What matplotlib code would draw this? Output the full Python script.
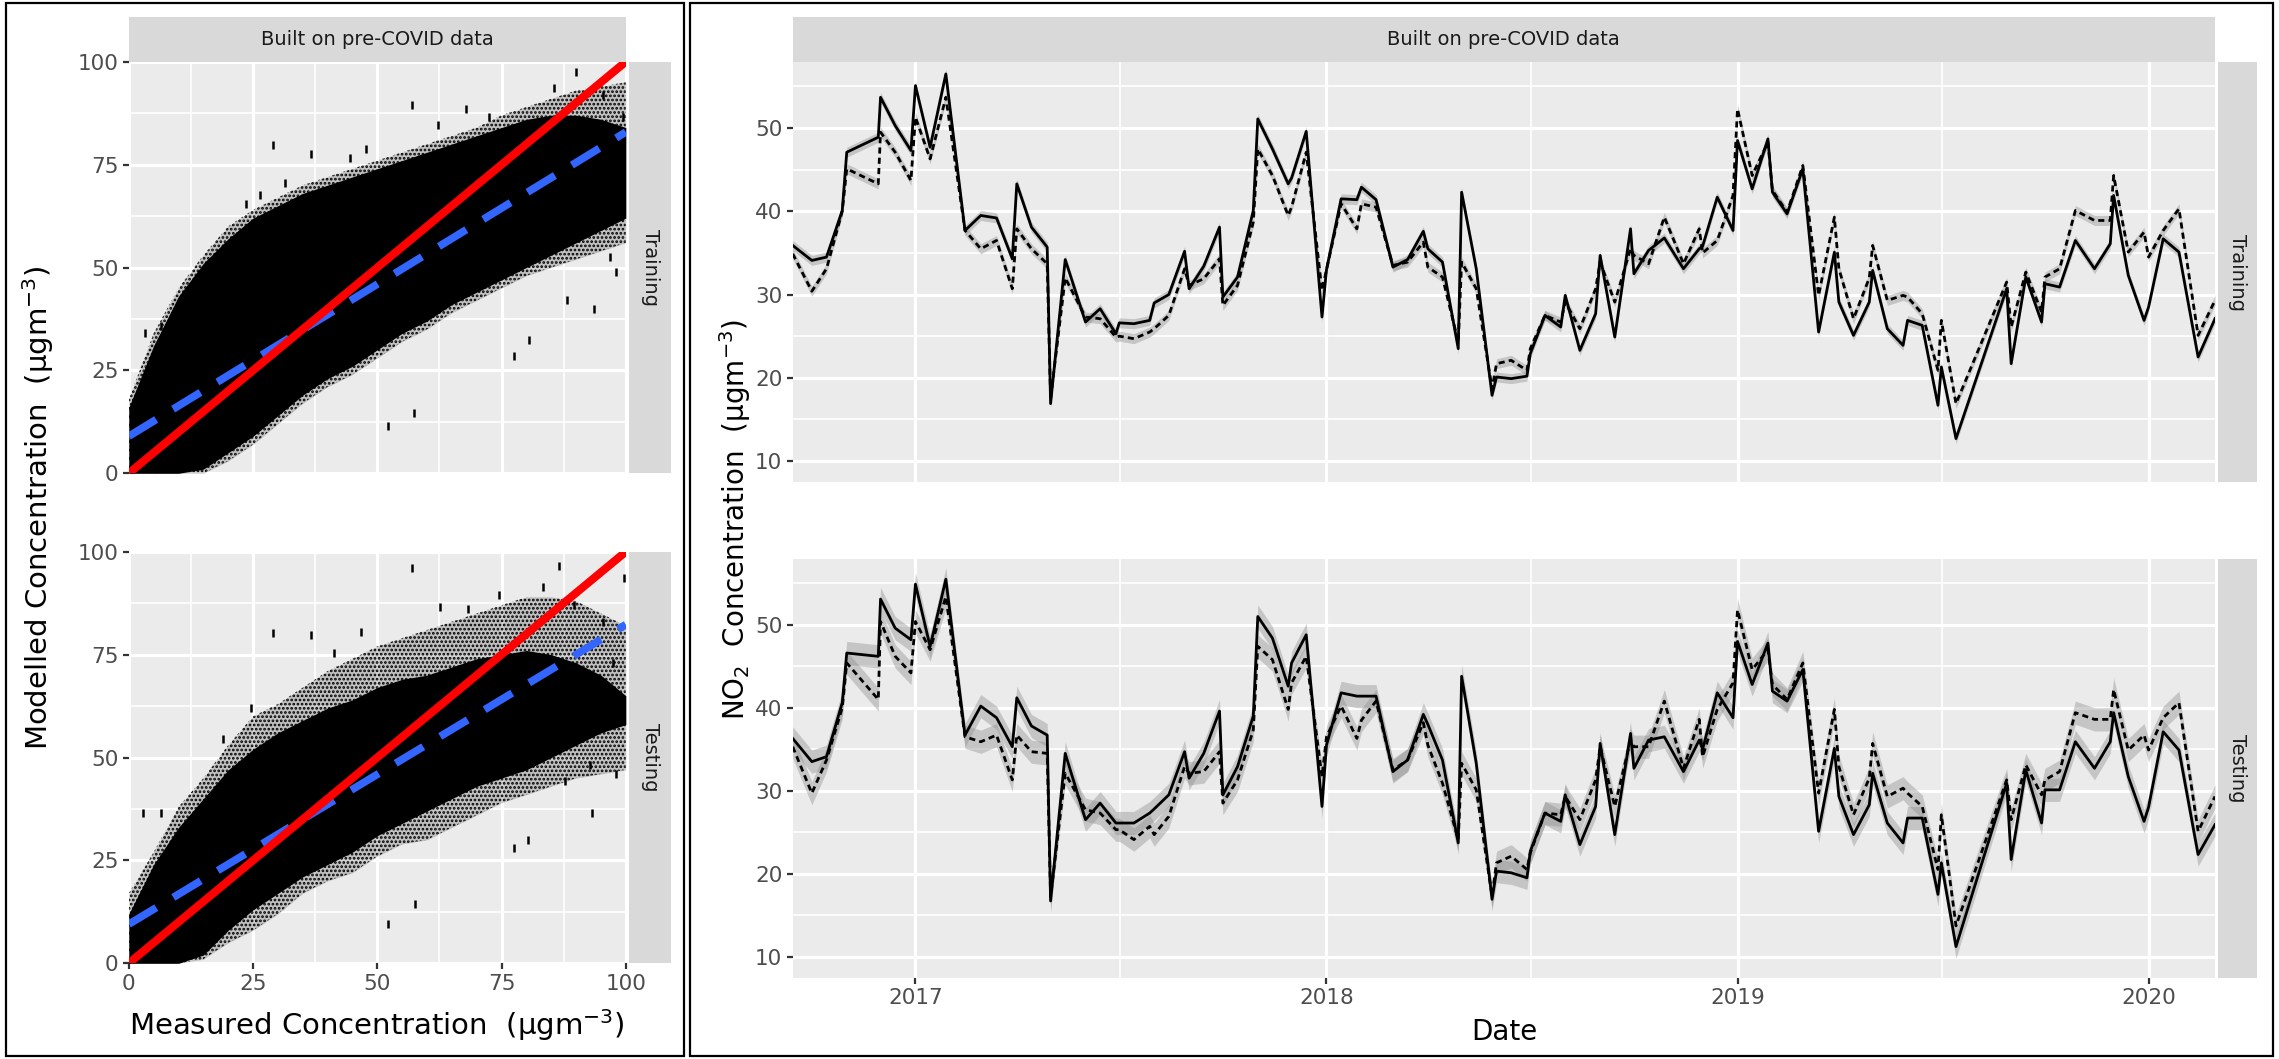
import numpy as np
import pandas as pd
import matplotlib
matplotlib.use("Agg")
import matplotlib.pyplot as plt
from matplotlib.patches import Rectangle

# ---- scatter panels: measured vs modelled -------------------------------
meas_bins = [0, 5, 10, 15, 20, 25, 30, 35, 40, 45, 50, 55, 60, 65, 70, 75, 80, 85, 90, 95, 100]

train_outer_up = [18, 34, 45, 53, 60, 64, 67, 70, 72, 74, 76, 78, 80, 82, 84, 87, 89, 91, 93, 94, 95]
train_outer_lo = [0, 0, 0, 0, 3, 7, 12, 17, 21, 24, 28, 32, 35, 39, 42, 45, 48, 50, 52, 54, 56]
train_core_up = [16, 31, 43, 51, 57, 62, 65, 68, 70, 72, 74, 76, 78, 80, 82, 84, 86, 87, 87, 86, 84]
train_core_lo = [0, 0, 0, 1, 5, 9, 14, 19, 23, 26, 30, 34, 37, 41, 44, 47, 50, 53, 56, 59, 62]

test_outer_up = [17, 27, 38, 45, 53, 60, 63, 67, 71, 74, 77, 79, 81, 83, 85, 87, 89, 89, 88, 85, 82]
test_outer_lo = [0, 0, 0, 1, 5, 8, 12, 17, 20, 22, 26, 29, 30, 33, 36, 39, 41, 43, 45, 46, 47]
test_core_up = [12, 24, 33, 40, 47, 52, 56, 59, 62, 64, 67, 69, 70, 72, 74, 75, 76, 75, 73, 70, 65]
test_core_lo = [0, 0, 0, 2, 8, 13, 17, 21, 24, 27, 31, 34, 37, 40, 43, 45, 47, 50, 53, 56, 58]

train_odd_x = [29, 36.7, 57, 52.2, 57.4, 77.5, 80.5, 93.6, 98, 26.4, 47.8, 67.9, 90, 3.3, 6.4,
               23.5, 31.5, 62.2, 72.5, 85.5, 95.5, 99.5, 44.5, 88.2, 96.8]
train_odd_y = [79.7, 77.6, 89.4, 11.4, 14.6, 28.5, 32.5, 39.8, 48.8, 67.5, 78.7, 88.6, 97.6, 34, 35.8,
               65.5, 70.5, 84.5, 86.5, 93.5, 92.0, 86.5, 76.5, 42.0, 52.5]
test_odd_x = [29, 36.7, 57, 52.2, 57.6, 77.5, 80.4, 93.2, 98, 86.6, 99.7, 2.9, 6.4, 62.7, 92.8, 87.8,
              41.3, 46.7, 68.2, 74.5, 83.3, 89.5, 95.4, 97.5, 18.9, 24.6]
test_odd_y = [80.2, 79.7, 96.1, 9.5, 14.3, 28.1, 29.9, 36.4, 45.9, 96.5, 93.5, 36.4, 36.4, 86.6, 48.1, 44.2,
              75.5, 80.5, 86.0, 89.5, 91.5, 87.0, 83.0, 73.0, 54.5, 62.0]

one_to_one = [0, 100]
fit_train = [9.0, 82.9]
fit_test = [9.5, 82.3]

# ---- time series panels ---------------------------------------------------
dates = [
    "2016-09-14", "2016-10-01", "2016-10-14", "2016-10-28", "2016-11-01", "2016-11-29",
    "2016-12-01", "2016-12-14", "2016-12-28", "2017-01-01", "2017-01-14", "2017-01-28",
    "2017-02-14", "2017-02-28", "2017-03-14", "2017-03-28", "2017-04-01", "2017-04-14",
    "2017-04-28", "2017-05-01", "2017-05-14", "2017-06-01", "2017-06-14", "2017-06-28",
    "2017-07-01", "2017-07-14", "2017-07-28", "2017-08-01", "2017-08-14", "2017-08-28",
    "2017-09-01", "2017-09-14", "2017-09-28", "2017-10-01", "2017-10-14", "2017-10-28",
    "2017-11-01", "2017-11-14", "2017-11-28", "2017-12-01", "2017-12-14", "2017-12-28",
    "2018-01-01", "2018-01-14", "2018-01-28", "2018-02-01", "2018-02-14", "2018-03-01",
    "2018-03-14", "2018-03-28", "2018-04-01", "2018-04-14", "2018-04-28", "2018-05-01",
    "2018-05-14", "2018-05-28", "2018-06-01", "2018-06-14", "2018-06-28", "2018-07-01",
    "2018-07-14", "2018-07-28", "2018-08-01", "2018-08-14", "2018-08-28", "2018-09-01",
    "2018-09-14", "2018-09-28", "2018-10-01", "2018-10-14", "2018-10-28", "2018-11-14",
    "2018-11-28", "2018-12-01", "2018-12-14", "2018-12-28", "2019-01-01", "2019-01-14",
    "2019-01-28", "2019-02-01", "2019-02-14", "2019-02-28", "2019-03-14", "2019-03-28",
    "2019-04-01", "2019-04-14", "2019-04-28", "2019-05-01", "2019-05-14", "2019-05-28",
    "2019-06-01", "2019-06-14", "2019-06-28", "2019-07-01", "2019-07-14", "2019-08-28",
    "2019-09-01", "2019-09-14", "2019-09-28", "2019-10-01", "2019-10-14", "2019-10-28",
    "2019-11-14", "2019-11-28", "2019-12-01", "2019-12-14", "2019-12-28", "2020-01-01",
    "2020-01-14", "2020-01-28", "2020-02-14", "2020-02-29",
]

train_measured = [
    35.9, 34.1, 34.5, 40.1, 47.1, 48.9, 53.7, 50.3, 47.3, 55.1, 47.7, 56.5,
    37.7, 39.5, 39.2, 34.3, 43.3, 38.1, 35.7, 16.9, 34.2, 26.7, 28.3, 25.3,
    26.6, 26.5, 26.9, 29.0, 30.0, 35.2, 30.7, 33.4, 38.1, 29.7, 32.1, 40.1,
    51.1, 47.5, 43.3, 44.0, 49.6, 27.3, 33.0, 41.5, 41.4, 42.9, 41.4, 33.3,
    34.2, 37.6, 35.5, 33.9, 23.5, 42.3, 33.1, 17.9, 20.1, 19.9, 20.2, 22.9,
    27.5, 26.1, 29.9, 23.3, 27.7, 34.7, 24.9, 37.9, 32.5, 35.3, 36.8, 33.1,
    35.5, 35.8, 41.7, 37.7, 48.5, 42.7, 48.7, 42.3, 39.7, 45.1, 25.5, 35.1,
    29.1, 25.1, 29.1, 32.9, 25.9, 23.9, 26.9, 26.3, 16.7, 21.3, 12.7, 30.7,
    21.7, 32.1, 26.7, 31.3, 30.9, 36.5, 33.1, 36.1, 41.9, 32.3, 26.9, 28.5,
    36.7, 35.1, 22.5, 27.1,
]
train_modelled = [
    34.9, 30.4, 33.1, 40.0, 45.1, 43.3, 49.5, 47.1, 43.7, 51.3, 46.3, 53.7,
    37.7, 35.5, 36.5, 30.7, 37.9, 35.5, 33.7, 17.5, 32.0, 27.3, 27.1, 24.9,
    25.0, 24.7, 25.5, 25.9, 27.5, 33.1, 31.1, 31.9, 34.3, 28.7, 31.1, 38.7,
    47.5, 44.3, 39.5, 40.5, 47.1, 30.5, 33.0, 40.9, 37.9, 40.9, 40.5, 33.5,
    33.9, 36.3, 33.3, 32.1, 24.3, 33.9, 30.7, 18.7, 21.7, 22.1, 20.9, 23.5,
    27.5, 26.7, 29.1, 25.9, 30.7, 33.9, 29.1, 35.5, 34.7, 33.7, 39.3, 33.7,
    37.9, 35.0, 36.5, 41.9, 52.3, 44.3, 48.3, 42.5, 39.9, 45.5, 29.9, 39.3,
    33.1, 27.1, 32.0, 35.9, 29.3, 29.9, 29.7, 27.7, 20.9, 26.9, 16.9, 31.5,
    26.1, 32.7, 27.9, 32.1, 33.1, 40.1, 38.9, 38.9, 44.3, 35.1, 37.5, 34.5,
    37.7, 40.3, 25.1, 29.3,
]
test_measured = [
    36.3, 33.5, 34.1, 40.6, 46.6, 46.2, 53.1, 49.6, 48.2, 54.9, 47.4, 55.5,
    36.7, 40.2, 38.8, 35.3, 41.2, 37.8, 36.7, 16.7, 34.5, 26.5, 28.5, 26.1,
    26.1, 26.1, 27.3, 27.8, 29.5, 34.7, 31.5, 34.5, 39.6, 29.5, 32.9, 39.0,
    51.0, 48.4, 42.6, 45.4, 48.8, 28.1, 35.5, 41.8, 41.4, 41.4, 41.4, 32.3,
    33.7, 39.2, 38.0, 33.7, 23.7, 43.8, 33.3, 16.9, 20.3, 20.1, 19.5, 22.7,
    27.3, 26.3, 29.5, 23.5, 28.1, 35.7, 24.7, 36.9, 32.7, 36.1, 36.5, 32.3,
    36.1, 35.0, 41.8, 38.8, 48.0, 42.8, 47.8, 42.0, 40.8, 44.6, 25.1, 35.1,
    29.3, 24.7, 28.3, 32.1, 26.1, 23.7, 26.7, 26.7, 17.5, 21.3, 11.2, 30.9,
    21.7, 32.5, 26.1, 30.1, 30.1, 35.9, 32.7, 35.9, 39.4, 31.7, 26.3, 28.0,
    37.1, 34.9, 22.3, 25.9,
]
test_modelled = [
    35.3, 29.7, 33.7, 40.0, 45.4, 41.0, 50.4, 46.2, 44.2, 50.4, 47.0, 53.4,
    36.5, 35.9, 36.7, 31.3, 36.7, 34.7, 34.5, 17.2, 32.1, 27.7, 27.3, 25.3,
    25.3, 24.1, 25.7, 24.7, 26.9, 32.9, 32.1, 32.3, 34.7, 28.5, 31.3, 37.3,
    47.4, 45.8, 39.8, 43.0, 46.2, 31.7, 36.5, 40.2, 36.3, 38.5, 40.8, 32.5,
    33.7, 38.2, 35.5, 30.9, 24.1, 33.3, 30.1, 17.3, 21.3, 22.1, 20.5, 22.5,
    27.3, 27.1, 29.3, 26.5, 31.3, 35.3, 28.1, 36.1, 35.3, 35.3, 40.8, 32.7,
    38.6, 34.1, 39.8, 43.0, 51.8, 44.6, 47.0, 42.8, 41.0, 45.4, 29.7, 39.8,
    32.9, 27.1, 31.5, 35.7, 29.3, 30.3, 29.7, 28.1, 20.5, 27.1, 13.7, 31.3,
    26.5, 33.1, 29.5, 31.3, 32.3, 39.4, 38.6, 38.6, 42.2, 34.9, 36.7, 34.9,
    38.8, 40.6, 25.1, 29.3,
]
band_train = 0.6   # half width of the grey confidence ribbon
band_test = 1.4

year_ticks = ["2017-01-01", "2018-01-01", "2019-01-01", "2020-01-01"]
year_labels = ["2017", "2018", "2019", "2020"]
half_years = ["2017-07-02", "2018-07-02", "2019-07-02"]

# ---- layout helpers (pixel boxes, origin top-left) ------------------------
W, H = 2279, 1059
PANEL = "#EBEBEB"
STRIP = "#D9D9D9"
TICK = "#4D4D4D"
plt.rcParams["hatch.linewidth"] = 1.3

fig = plt.figure(figsize=(W / 100, H / 100), dpi=100)
fig.patch.set_facecolor("white")


def add_box(x0, y0, x1, y1, **kw):
    return fig.add_axes([x0 / W, 1 - y1 / H, (x1 - x0) / W, (y1 - y0) / H], **kw)


def strip(x0, y0, x1, y1, text, rot=0):
    ax = add_box(x0, y0, x1, y1)
    ax.set_facecolor(STRIP)
    ax.set_xticks([])
    ax.set_yticks([])
    for s in ax.spines.values():
        s.set_visible(False)
    ax.text(0.5, 0.5, text, rotation=rot, ha="center", va="center",
            fontsize=14, color="#1A1A1A", transform=ax.transAxes)


def panel(x0, y0, x1, y1):
    ax = add_box(x0, y0, x1, y1)
    ax.set_facecolor(PANEL)
    for s in ax.spines.values():
        s.set_visible(False)
    ax.grid(True, which="major", color="white", lw=2.3)
    ax.grid(True, which="minor", color="white", lw=1.2)
    ax.set_axisbelow(True)
    ax.tick_params(which="major", length=4.5, width=1.6, color="#333333",
                   labelsize=15.5, labelcolor=TICK, pad=3)
    ax.tick_params(which="minor", length=0)
    return ax


# ---- left: scatter facets -------------------------------------------------
def scatter_facet(y0, y1, outer_up, outer_lo, core_up, core_lo, odd_x, odd_y,
                  fit, label, bottom):
    ax = panel(128.8, y0, 625.8, y1)
    # sparse fringe of the point cloud, then the saturated core
    ax.fill_between(meas_bins, outer_lo, outer_up, color="black", alpha=0.18, lw=0)
    ax.fill_between(meas_bins, outer_lo, outer_up, facecolor="none",
                    edgecolor="black", hatch="....", lw=0)
    ax.fill_between(meas_bins, core_lo, core_up, color="black", lw=0)
    ax.scatter(odd_x, odd_y, marker="|", s=30, color="black", lw=1.8)
    ax.plot(one_to_one, fit, color="#3366FF", lw=5.5, dashes=(4.2, 2.6))
    ax.plot(one_to_one, one_to_one, color="#FF0000", lw=5.8,
            solid_capstyle="butt")
    ax.set_xlim(0, 100)
    ax.set_ylim(0, 100)
    ticks = [0, 25, 50, 75, 100]
    ax.set_xticks(ticks)
    ax.set_yticks(ticks)
    ax.set_xticks([12.5, 37.5, 62.5, 87.5], minor=True)
    ax.set_yticks([12.5, 37.5, 62.5, 87.5], minor=True)
    if not bottom:
        ax.tick_params(axis="x", which="both", length=0, labelbottom=False)
    strip(629, y0, 671.5, y1, label, rot=-90)
    return ax


strip(128.8, 17.3, 625.8, 61.7, "Built on pre-COVID data")
scatter_facet(61.7, 473.3, train_outer_up, train_outer_lo, train_core_up,
              train_core_lo, train_odd_x, train_odd_y, fit_train, "Training", False)
scatter_facet(551.7, 963.3, test_outer_up, test_outer_lo, test_core_up,
              test_core_lo, test_odd_x, test_odd_y, fit_test, "Testing", True)

fig.text(377 / W, 1 - 1025 / H, "Measured Concentration  (μgm$^{-3}$)",
         ha="center", va="center", fontsize=21)
fig.text(38 / W, 1 - 508 / H, "Modelled Concentration  (μgm$^{-3}$)",
         ha="center", va="center", fontsize=21, rotation=90)

# ---- right: time series facets --------------------------------------------
t = pd.to_datetime(dates)
xmin, xmax = t[0], t[-1]


def series_facet(y0, y1, measured, modelled, band, label, bottom):
    ax = panel(792.7, y0, 2215, y1)
    measured = np.array(measured)
    modelled = np.array(modelled)
    ax.fill_between(t, modelled - band, modelled + band, color="#8C8C8C",
                    alpha=0.4, lw=0)
    ax.fill_between(t, measured - band, measured + band, color="#8C8C8C",
                    alpha=0.4, lw=0)
    ax.plot(t, modelled, color="black", lw=2.0, dashes=(2.2, 1.5))
    ax.plot(t, measured, color="black", lw=2.0)
    ax.set_xlim(xmin, xmax)
    ax.set_ylim(7.45, 57.9)
    ax.set_yticks([10, 20, 30, 40, 50])
    ax.set_yticks([15, 25, 35, 45, 55], minor=True)
    ax.set_xticks(pd.to_datetime(year_ticks))
    ax.set_xticks(pd.to_datetime(half_years), minor=True)
    if bottom:
        ax.set_xticklabels(year_labels)
    else:
        ax.tick_params(axis="x", which="both", length=0, labelbottom=False)
    strip(2218, y0, 2257, y1, label, rot=-90)
    return ax


strip(792.7, 17.3, 2215, 62.3, "Built on pre-COVID data")
series_facet(62.3, 482.3, train_measured, train_modelled, band_train, "Training", False)
series_facet(559.3, 977.7, test_measured, test_modelled, band_test, "Testing", True)

fig.text(1504 / W, 1 - 1032 / H, "Date", ha="center", va="center", fontsize=20)
fig.text(735 / W, 1 - 520 / H, "NO$_2$  Concentration  (μgm$^{-3}$)",
         ha="center", va="center", fontsize=20, rotation=90)

# ---- frames around the two halves -----------------------------------------
for x0, x1 in [(6, 684), (690, 2273)]:
    fig.patches.append(Rectangle((x0 / W, 3 / H), (x1 - x0) / W, (H - 6) / H,
                                 transform=fig.transFigure, fill=False,
                                 edgecolor="black", lw=1.6))

fig.savefig("out.png", dpi=100)
